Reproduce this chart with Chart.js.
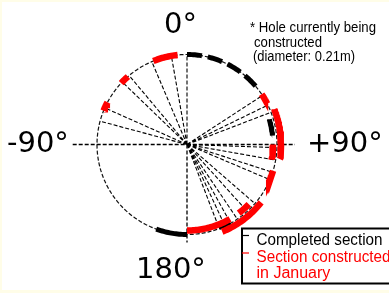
<!DOCTYPE html>
<html>
<head>
<meta charset="utf-8">
<script src="https://cdn.jsdelivr.net/npm/chart.js@4/dist/chart.umd.min.js"></script>
<style>
html, body { margin: 0; padding: 0; background: #fffde8; }
body { width: 389px; height: 293px; position: relative; overflow: hidden; }
#holeChart { position: absolute; left: 2px; top: 2px; background: #fff; }
</style>
</head>
<body>
<canvas id="holeChart" width="387" height="288"></canvas>
<script>
// angles in degrees: 0 = top, clockwise positive
const radialAngles = [-75, -66, -46, -40, -23, -10, 0, 57, 64, 69, 92, 100, 108, 113, 131, 138, 146, 151, 155, 159];
// [start, end, ring] ring: -1 inside circle, 0 on circle, 1 outside
const completedArcs = [[73, 84, -1], [151, 159, 0], [180, 200, 0]];
const completedDashedArc = [0, 52];
const januaryArcs = [[-68, -62, 0], [-47, -41, 0], [-22, -6, 0], [56, 63, 0], [68, 99, 1], [90, 100, -1], [107, 114, 0], [128, 158, 1], [134, 143, -1], [150, 180, -1]];
const angleLabels = ['0°', '-90°', '+90°', '180°'];
const noteLines = ['* Hole currently being', 'constructed', '(diameter: 0.21m)'];
const legendLines = ['Completed section', 'Section constructed', 'in January'];

const W = 387, H = 288;
const CX = 185, CY = 142.5, R = 90, RING = 4;

function pt(deg, k) {
    const a = deg * Math.PI / 180;
    return { x: k * Math.sin(a), y: k * Math.cos(a) };
}
function arcPoints(s, e, ring) {
    const k = 1 + ring * RING / R;
    let pts = [];
    for (let a = s; a < e; a += 1) pts.push(pt(a, k));
    pts.push(pt(e, k));
    return pts;
}
function lineSet(data, color, width, dash) {
    return {
        data: data,
        showLine: true,
        borderColor: color,
        borderWidth: width,
        borderDash: dash || [],
        pointRadius: 0,
        fill: false,
        tension: 0,
        spanGaps: false
    };
}

const gap = { x: NaN, y: NaN };
let radialData = [];
radialAngles.forEach(a => { radialData.push({ x: 0, y: 0 }, pt(a, 1), gap); });
const axisData = [{ x: -1.27, y: 0 }, { x: 1.2, y: 0 }, gap, { x: 0, y: 0 }, { x: 0, y: -1.09 }];

const datasets = [];
januaryArcs.forEach(s => datasets.push(lineSet(arcPoints(s[0], s[1], s[2]), '#ff0000', 6.5)));
completedArcs.forEach(s => datasets.push(lineSet(arcPoints(s[0], s[1], s[2]), '#000', s[2] === 0 && s[0] > 140 && s[0] < 170 ? 3 : 5)));
datasets.push(lineSet(arcPoints(completedDashedArc[0], completedDashedArc[1], 0), '#000', 5, [15, 6]));
datasets.push(lineSet(arcPoints(0, 360, 0), '#111', 1.2, [4, 2]));
datasets.push(lineSet(radialData, '#000', 1.1, [4, 2]));
datasets.push(lineSet(axisData, '#000', 1.3, [4, 2]));

const textPlugin = {
    id: 'textPlugin',
    afterDraw(chart) {
        const ctx = chart.ctx;
        ctx.save();
        ctx.textBaseline = 'alphabetic';
        ctx.textAlign = 'left';
        ctx.fillStyle = '#000';
        ctx.font = '29px "DejaVu Sans"';
        ctx.fillText(angleLabels[0], 162, 31);
        ctx.fillText(angleLabels[1], 5, 150);
        ctx.fillText(angleLabels[2], 305, 150);
        ctx.fillText(angleLabels[3], 134, 276);

        ctx.font = '15px "Liberation Sans"';
        ctx.fillText(noteLines[0], 248, 30, 126);
        ctx.fillText(noteLines[1], 252, 45, 68);
        ctx.fillText(noteLines[2], 251, 59, 102);

        // legend box
        ctx.lineWidth = 2;
        ctx.strokeStyle = '#000';
        ctx.strokeRect(240, 226.5, 160, 55);
        ctx.lineWidth = 1.2;
        ctx.beginPath();
        ctx.moveTo(240, 233.5);
        ctx.lineTo(247, 233.5);
        ctx.stroke();
        ctx.strokeStyle = '#ff0000';
        ctx.beginPath();
        ctx.moveTo(240, 251);
        ctx.lineTo(247, 251);
        ctx.stroke();

        ctx.font = '16px "Liberation Sans"';
        ctx.fillStyle = '#000';
        ctx.fillText(legendLines[0], 254.5, 243, 126);
        ctx.fillStyle = '#ff0000';
        ctx.fillText(legendLines[1], 254.5, 259.5, 134);
        ctx.fillText(legendLines[2], 254.5, 276);
        ctx.restore();
    }
};

new Chart(document.getElementById('holeChart').getContext('2d'), {
    type: 'scatter',
    data: { datasets: datasets },
    options: {
        responsive: false,
        animation: false,
        layout: { padding: 0 },
        scales: {
            x: { type: 'linear', display: false, min: -CX / R, max: (W - CX) / R },
            y: { type: 'linear', display: false, min: -(H - CY) / R, max: CY / R }
        },
        plugins: {
            legend: { display: false },
            tooltip: { enabled: false }
        }
    },
    plugins: [textPlugin]
});
</script>
</body>
</html>
